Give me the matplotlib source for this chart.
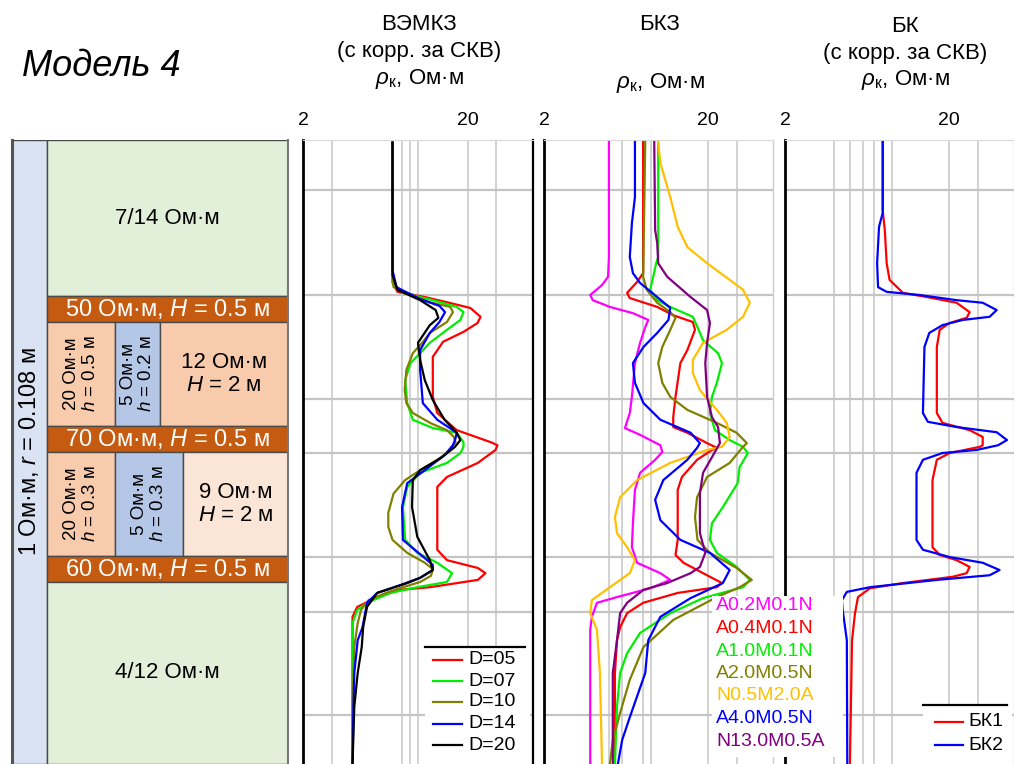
import matplotlib
matplotlib.use('Agg')
import matplotlib.pyplot as plt
from matplotlib.patches import Rectangle
from matplotlib.lines import Line2D
from matplotlib.ticker import NullLocator, FixedLocator, FixedFormatter

plt.rcParams['font.family'] = ['Liberation Sans', 'DejaVu Sans']
plt.rcParams['mathtext.fontset'] = 'custom'
plt.rcParams['mathtext.rm'] = 'Liberation Sans'
plt.rcParams['mathtext.it'] = 'Liberation Sans:italic'
plt.rcParams['mathtext.bf'] = 'Liberation Sans:bold'

# ---------------------------------------------------------------- data
# ВЭМКЗ (apparent resistivity, Ohm*m) vs depth (m from top of section)
vemkz_labels = ['D=05', 'D=07', 'D=10', 'D=14', 'D=20']
vemkz_colors = ['#ff0000', '#00ee00', '#808000', '#0000ff', '#000000']

d05_depth = [0.05, 2.40, 2.73, 2.92, 3.02, 3.12, 3.23, 3.40, 3.52, 3.69, 3.88, 4.17, 4.42, 4.94, 5.25,
             5.58, 5.81, 5.87, 5.96, 6.21, 6.48, 6.67, 7.88, 8.08, 8.23, 8.33, 8.46, 8.60, 8.65, 8.79,
             8.98, 9.17, 9.37, 10.25, 12.0]
d05_value = [7.0, 7.0, 7.0, 7.5, 11.0, 15.0, 20.8, 24.0, 23.0, 18.9, 14.2, 12.3, 12.3, 12.3, 13.1,
             17.2, 27.6, 30.4, 29.6, 23.1, 15.0, 13.1, 13.1, 15.0, 23.1, 25.7, 23.1, 11.8, 7.8, 5.65,
             4.27, 4.0, 4.0, 4.0, 4.0]

d07_depth = [0.05, 2.50, 2.75, 2.94, 3.08, 3.21, 3.31, 3.46, 3.65, 3.90, 4.10, 4.29, 4.62, 5.06, 5.38,
             5.54, 5.63, 5.81, 5.90, 6.02, 6.21, 6.40, 6.67, 7.06, 7.69, 7.94, 8.13, 8.33, 8.50, 8.60,
             8.71, 8.90, 9.04, 9.29, 9.62, 10.9, 12.0]
d07_value = [7.0, 7.0, 7.0, 8.1, 12.3, 17.2, 18.9, 18.1, 15.0, 11.8, 10.3, 9.0, 8.35, 8.6, 9.3,
             12.3, 17.2, 18.9, 18.9, 18.1, 15.0, 10.3, 8.6, 8.1, 8.35, 9.9, 13.1, 16.1, 15.0, 9.9,
             6.8, 4.9, 4.27, 4.0, 4.0, 4.0, 4.0]

d10_depth = [0.05, 2.60, 2.83, 3.12, 3.21, 3.31, 3.50, 3.71, 3.90, 4.10, 4.42, 4.81, 5.06, 5.25, 5.45,
             5.58, 5.71, 5.81, 5.90, 6.02, 6.15, 6.35, 6.54, 6.80, 7.17, 7.44, 7.69, 7.94, 8.13, 8.25,
             8.38, 8.50, 8.60, 8.71, 8.85, 9.04, 9.29, 9.75, 10.9, 12.0]
d10_value = [7.0, 7.0, 7.1, 11.8, 15.7, 16.3, 15.0, 11.8, 10.6, 9.3, 8.5, 8.3, 8.5, 9.3, 12.0,
             15.0, 16.5, 16.9, 16.1, 15.0, 13.1, 10.3, 8.35, 7.1, 6.6, 6.6, 7.0, 8.6, 11.0, 12.3,
             12.0, 10.3, 8.1, 6.4, 5.0, 4.5, 4.3, 4.1, 4.0, 4.0]

d14_depth = [0.05, 2.50, 2.83, 3.06, 3.19, 3.31, 3.50, 3.71, 4.04, 4.42, 5.06, 5.38, 5.63, 5.77, 5.87,
             6.06, 6.35, 6.60, 7.06, 7.69, 7.92, 8.17, 8.27, 8.42, 8.56, 8.71, 8.90, 9.37, 9.62, 10.25,
             10.9, 12.0]
d14_value = [7.0, 7.0, 7.4, 10.3, 13.5, 14.6, 13.5, 11.8, 10.3, 10.3, 10.7, 13.1, 17.2, 16.8, 16.3,
             14.5, 11.0, 8.6, 8.0, 8.1, 9.9, 12.3, 12.3, 10.3, 7.8, 5.65, 4.9, 4.6, 4.3, 4.1,
             4.05, 4.0]

d20_depth = [0.05, 2.60, 2.88, 3.08, 3.27, 3.42, 3.56, 3.90, 4.23, 4.62, 5.00, 5.38, 5.63, 5.77, 5.90,
             6.12, 6.35, 6.54, 7.06, 7.63, 8.08, 8.27, 8.42, 8.52, 8.71, 8.98, 9.37, 9.75, 10.25, 10.9,
             12.0]
d20_value = [7.0, 7.0, 7.5, 10.3, 12.8, 13.3, 11.8, 10.0, 10.3, 11.0, 12.3, 14.5, 17.2, 18.1, 16.8,
             13.7, 10.3, 9.3, 9.2, 9.9, 11.8, 12.3, 10.3, 8.6, 5.65, 4.9, 4.64, 4.55, 4.3, 4.1,
             4.0]

# БКЗ (lateral sounding probes)
bkz_labels = ['A0.2M0.1N', 'A0.4M0.1N', 'A1.0M0.1N', 'A2.0M0.5N', 'N0.5M2.0A', 'A4.0M0.5N', 'N13.0M0.5A']
bkz_colors = ['#ff00ff', '#ff0000', '#00ee00', '#808000', '#ffc000', '#0000ff', '#800080']

a02_depth = [0.04, 2.27, 2.63, 2.79, 2.98, 3.08, 3.21, 3.33, 3.46, 3.60, 3.90, 4.29, 4.94, 5.25, 5.54,
             5.67, 5.87, 6.00, 6.15, 6.40, 6.73, 7.37, 7.83, 8.13, 8.33, 8.46, 8.62, 8.79, 8.90, 9.17,
             9.42, 12.0]
a02_value = [4.98, 4.98, 4.92, 4.52, 3.83, 3.97, 5.05, 6.98, 8.66, 8.30, 7.72, 7.18, 6.88, 6.68, 6.24,
             7.72, 10.26, 10.55, 9.54, 7.72, 7.18, 6.98, 6.88, 7.40, 10.26, 11.8, 8.9, 5.58, 4.21, 3.92,
             3.83, 3.83]

a04_depth = [0.04, 2.56, 2.73, 2.94, 3.04, 3.21, 3.37, 3.50, 3.65, 4.04, 4.29, 4.94, 5.33, 5.52, 5.63,
             5.83, 5.92, 5.96, 6.15, 6.48, 6.73, 7.69, 7.98, 8.13, 8.33, 8.52, 8.60, 8.71, 8.90, 9.10,
             9.37, 9.62, 10.25, 12.0]
a04_value = [8.06, 8.06, 7.40, 6.43, 6.68, 9.82, 12.3, 16.2, 16.7, 15.0, 13.6, 12.7, 12.3, 12.3, 15.0,
             19.8, 22.7, 21.2, 17.2, 13.9, 13.1, 13.1, 12.7, 14.2, 18.7, 24.4, 22.7, 13.1, 8.06, 6.43,
             5.83, 5.58, 5.42, 5.42]

a10_depth = [0.04, 2.25, 2.37, 2.63, 2.88, 3.08, 3.21, 3.40, 3.60, 3.85, 4.10, 4.29, 4.67, 4.94, 5.25,
             5.58, 5.77, 5.90, 6.02, 6.29, 6.60, 7.06, 7.37, 7.69, 7.94, 8.21, 8.46, 8.60, 8.81, 9.10,
             9.48, 9.87, 10.25, 10.90, 12.0]
a10_value = [9.96, 9.96, 9.68, 9.28, 8.9, 9.82, 11.8, 16.2, 17.3, 18.7, 23.1, 24.4, 22.7, 21.2, 20.6,
             22.1, 27.2, 32.8, 35.1, 31.3, 30.4, 24.7, 21.2, 20.6, 22.7, 30.0, 36.1, 32.8, 18.7, 11.8,
             7.72, 6.43, 5.83, 5.58, 5.42]

a20_depth = [0.04, 2.63, 2.88, 3.13, 3.31, 3.42, 3.65, 3.98, 4.29, 4.67, 4.94, 5.19, 5.44, 5.63, 5.83,
             5.90, 6.21, 6.48, 6.87, 7.25, 7.69, 7.94, 8.23, 8.46, 8.60, 8.79, 9.23, 9.75, 10.38, 11.02,
             11.54, 12.0]
a20_value = [8.30, 8.06, 8.48, 9.82, 11.8, 12.7, 11.8, 10.55, 9.96, 10.55, 11.8, 15.0, 22.7, 30.0, 34.6,
             32.8, 27.2, 19.8, 17.2, 16.7, 17.3, 20.6, 30.0, 37.1, 31.3, 22.7, 12.3, 8.1, 6.68, 5.83,
             5.26, 5.05]

n05_depth = [0.04, 0.44, 1.10, 1.67, 2.06, 2.37, 2.69, 2.88, 3.13, 3.40, 3.65, 3.90, 4.23, 4.48, 4.81,
             5.19, 5.44, 5.71, 5.90, 5.96, 6.21, 6.54, 6.87, 7.25, 7.56, 7.83, 8.08, 8.33, 8.65, 8.85,
             9.10, 9.42, 10.25, 12.0]
n05_value = [9.96, 10.26, 11.8, 13.1, 15.0, 19.8, 27.2, 32.8, 36.1, 32.8, 26.1, 18.7, 16.2, 16.2, 17.9,
             22.7, 26.1, 27.2, 24.4, 19.8, 11.8, 7.40, 5.83, 5.42, 5.58, 6.43, 7.18, 6.68, 4.8, 3.92,
             3.83, 4.21, 4.39, 4.52]

a40_depth = [0.04, 1.10, 1.60, 2.25, 2.56, 2.75, 3.02, 3.23, 3.46, 3.71, 3.98, 4.29, 4.67, 5.06, 5.38,
             5.63, 5.83, 5.92, 6.15, 6.54, 6.92, 7.31, 7.69, 7.94, 8.27, 8.52, 8.81, 9.17, 9.62, 10.25,
             11.10, 11.54, 12.0]
a40_value = [7.18, 7.18, 6.88, 6.68, 6.98, 7.72, 9.82, 11.8, 11.5, 9.82, 8.1, 6.98, 7.18, 8.1, 10.26,
             15.7, 17.9, 17.2, 15.0, 10.7, 9.54, 10.26, 13.6, 20.6, 27.2, 24.7, 15.7, 10.26, 8.66, 8.30,
             6.68, 6.0, 5.65]

n13_depth = [0.04, 1.73, 1.98, 2.37, 2.63, 3.02, 3.27, 3.52, 3.90, 4.29, 4.94, 5.33, 5.52, 5.83, 6.10,
             6.40, 6.79, 7.56, 7.94, 8.21, 8.33, 8.52, 8.65, 8.90, 9.10, 9.62, 10.25, 12.0]
n13_value = [9.42, 9.54, 9.82, 9.96, 11.3, 15.7, 19.8, 20.6, 19.8, 19.3, 19.8, 21.2, 23.1, 23.7, 21.2,
             18.7, 17.9, 17.9, 19.3, 17.9, 15.7, 11.3, 8.1, 6.43, 5.83, 5.58, 5.26, 5.26]

# БК (laterolog)
bk_labels = ['БК1', 'БК2']
bk_colors = ['#ff0000', '#0000ff']

bk1_depth = [0.04, 1.35, 1.73, 2.37, 2.69, 2.94, 3.02, 3.13, 3.31, 3.42, 3.52, 3.65, 3.98, 5.25, 5.44,
             5.58, 5.71, 5.87, 5.90, 6.02, 6.15, 6.54, 7.83, 7.98, 8.08, 8.21, 8.33, 8.40, 8.52, 8.62,
             8.79, 9.10, 9.62, 12.0]
bk1_value = [7.9, 7.9, 8.13, 8.35, 8.7, 10.5, 14.7, 22.3, 26.8, 25.7, 20.2, 17.6, 16.9, 16.9, 18.3,
             26.8, 32.2, 32.2, 31.0, 20.2, 16.9, 15.9, 15.9, 17.6, 22.3, 26.8, 25.7, 21.1, 10.5, 6.6,
             5.58, 5.35, 5.13, 4.98]

bk2_depth = [0.04, 1.40, 1.67, 2.37, 2.83, 2.92, 2.98, 3.08, 3.13, 3.27, 3.40, 3.46, 3.56, 3.71, 3.98,
             5.25, 5.42, 5.52, 5.62, 5.77, 5.87, 5.96, 6.02, 6.15, 6.40, 7.69, 7.88, 8.02, 8.13, 8.27,
             8.37, 8.46, 8.60, 8.69, 8.85, 9.04, 9.62, 12.0]
bk2_value = [7.9, 7.9, 7.5, 7.3, 7.4, 8.35, 13.2, 22.3, 32.2, 39.2, 35.5, 24.4, 18.3, 15.2, 14.2,
             13.9, 14.9, 22.3, 39.2, 45.3, 40.0, 29.6, 18.3, 13.9, 12.7, 12.7, 13.9, 20.2, 32.2, 40.8,
             35.5, 16.9, 6.6, 4.77, 4.45, 4.5, 4.77, 4.8]

vemkz_curves = [(d05_depth, d05_value), (d07_depth, d07_value), (d10_depth, d10_value),
                (d14_depth, d14_value), (d20_depth, d20_value)]
bkz_curves = [(a02_depth, a02_value), (a04_depth, a04_value), (a10_depth, a10_value),
              (a20_depth, a20_value), (n05_depth, n05_value), (a40_depth, a40_value),
              (n13_depth, n13_value)]
bk_curves = [(bk1_depth, bk1_value), (bk2_depth, bk2_value)]

# horizontal reference lines (depth, m) and vertical grid values (Ohm*m)
depth_grid = [0.96, 2.98, 4.98, 6.02, 8.02, 9.08, 11.06]
vemkz_grid = [3, 8, 9, 10, 20, 30]
bkz_grid = [5, 6, 8, 9, 20, 30]
bk_grid = [4, 5, 6, 7, 9, 20, 30]
x_ticks = [2, 20]
x_range = (2, 50)
depth_range = (0, 12)

# ---------------------------------------------------------------- layout helpers
W, H = 1014, 764
fig = plt.figure(figsize=(W / 100, H / 100), dpi=100)
fig.patch.set_facecolor('white')


def rect(x0, y0, x1, y1):
    return [x0 / W, 1 - y1 / H, (x1 - x0) / W, (y1 - y0) / H]


def fx(x):
    return x / W


def fy(y):
    return 1 - y / H


TOP, BOT = 140, 764

# ---------------------------------------------------------------- title
fig.text(fx(22), fy(67), 'Модель 4', fontsize=26, style='italic', ha='left', va='center')

# ---------------------------------------------------------------- model column
GREEN = '#e2efd9'
BAND = '#c55a11'
PEACH = '#f8cbad'
PEACH_L = '#fbe5d6'
BLUE_L = '#b4c7e7'
STRIP = '#dae3f3'
EDGE = '#4a4a4a'

axm = fig.add_axes(rect(12, TOP, 288, BOT))
axm.set_xlim(12, 288)
axm.set_ylim(depth_range[1], depth_range[0])
axm.axis('off')

cells = [
    (12, 47, 0.0, 12.0, STRIP, r'1 Ом·м, $r$ = 0.108 м', 90, 'black', 17),
    (47, 288, 0.0, 3.0, GREEN, '7/14 Ом·м', 0, 'black', 16),
    (47, 288, 3.0, 3.5, BAND, r'50 Ом·м, $H$ = 0.5 м', 0, 'white', 17),
    (47, 115, 3.5, 5.5, PEACH, '20 Ом·м\n' + r'$h$ = 0.5 м', 90, 'black', 13.5),
    (115, 160, 3.5, 5.5, BLUE_L, '5 Ом·м\n' + r'$h$ = 0.2 м', 90, 'black', 13.5),
    (160, 288, 3.5, 5.5, PEACH, '12 Ом·м\n' + r'$H$ = 2 м', 0, 'black', 16),
    (47, 288, 5.5, 6.0, BAND, r'70 Ом·м, $H$ = 0.5 м', 0, 'white', 17),
    (47, 115, 6.0, 8.0, PEACH, '20 Ом·м\n' + r'$h$ = 0.3 м', 90, 'black', 13.5),
    (115, 183, 6.0, 8.0, BLUE_L, '5 Ом·м\n' + r'$h$ = 0.3 м', 90, 'black', 13.5),
    (183, 288, 6.0, 8.0, PEACH_L, '9 Ом·м\n' + r'$H$ = 2 м', 0, 'black', 16),
    (47, 288, 8.0, 8.5, BAND, r'60 Ом·м, $H$ = 0.5 м', 0, 'white', 17),
    (47, 288, 8.5, 12.0, GREEN, '4/12 Ом·м', 0, 'black', 16),
]
for x0, x1, d0, d1, col, txt, rot, tcol, fs in cells:
    axm.add_patch(Rectangle((x0, d0), x1 - x0, d1 - d0, facecolor=col,
                            edgecolor=EDGE, linewidth=1.0))
    axm.text((x0 + x1) / 2, (d0 + d1) / 2, txt, rotation=rot, color=tcol, fontsize=fs,
             ha='center', va='center', linespacing=1.15, multialignment='center')
axm.plot([12, 12], [0, 12], color='#555555', lw=2.2, clip_on=False)
axm.plot([288, 288], [0, 12], color='#777777', lw=1.5, clip_on=False)

# ---------------------------------------------------------------- log panels
RHO = r'$\rho_{\mathrm{к}}$, Ом·м'
panels = [
    dict(x0=303, x1=533, curves=vemkz_curves, colors=vemkz_colors, grid=vemkz_grid,
         right='black', head=[('ВЭМКЗ', 25), ('(с корр. за СКВ)', 52), (RHO, 79)], hx=419),
    dict(x0=544, x1=773, curves=bkz_curves, colors=bkz_colors, grid=bkz_grid,
         right='#cccccc', head=[('БКЗ', 25), (RHO, 83)], hx=660),
    dict(x0=785, x1=1014, curves=bk_curves, colors=bk_colors, grid=bk_grid,
         right='#cccccc', head=[('БК', 27), ('(с корр. за СКВ)', 53), (RHO, 80)], hx=905),
]
axes = []
for p in panels:
    ax = fig.add_axes(rect(p['x0'], TOP, p['x1'], BOT))
    ax.set_xscale('log')
    ax.set_xlim(*x_range)
    ax.set_ylim(depth_range[1], depth_range[0])
    ax.xaxis.set_major_locator(FixedLocator(x_ticks))
    ax.xaxis.set_major_formatter(FixedFormatter([str(t) for t in x_ticks]))
    ax.xaxis.set_minor_locator(NullLocator())
    ax.xaxis.tick_top()
    ax.tick_params(axis='x', length=0, pad=8, labelsize=14)
    ax.set_yticks([])
    for v in p['grid']:
        ax.axvline(v, color='#cfcfcf', lw=1.3, zorder=0)
    for d in depth_grid:
        ax.axhline(d, color='#c4c4c4', lw=1.6, zorder=0)
    for (dep, val), col in zip(p['curves'], p['colors']):
        ax.plot(val, dep, color=col, lw=1.6, zorder=3)
    ax.spines['left'].set_color('black')
    ax.spines['left'].set_linewidth(2.0)
    ax.spines['right'].set_color(p['right'])
    ax.spines['right'].set_linewidth(1.6 if p['right'] == 'black' else 1.0)
    ax.spines['top'].set_color('#d8d8d8')
    ax.spines['bottom'].set_visible(False)
    for txt, y in p['head']:
        fig.text(fx(p['hx']), fy(y), txt, fontsize=16, ha='center', va='center')
    axes.append(ax)


def legend_lines(ax, x0px, labels, colors, top_px, rows_px, lx0, lx1, tx, right_px):
    """Legend with a top rule, line samples and labels (positions in pixels)."""
    w = ax.get_position()
    px0 = w.x0 * W
    pw = w.width * W

    def ax_x(x):
        return (x - px0) / pw

    def ax_y(y):
        return 1 - (y - TOP) / (BOT - TOP)

    ax.add_patch(Rectangle((ax_x(x0px), 0), ax_x(right_px) - ax_x(x0px), ax_y(top_px),
                           transform=ax.transAxes, facecolor='white', edgecolor='none', zorder=5))
    ax.add_line(Line2D([ax_x(x0px), ax_x(right_px - 5)], [ax_y(top_px)] * 2, transform=ax.transAxes,
                       color='black', lw=1.6, zorder=6))
    for lab, col, y in zip(labels, colors, rows_px):
        ax.add_line(Line2D([ax_x(lx0), ax_x(lx1)], [ax_y(y)] * 2, transform=ax.transAxes,
                           color=col, lw=1.6, zorder=6))
        ax.text(ax_x(tx), ax_y(y), lab, transform=ax.transAxes, fontsize=14,
                ha='left', va='center', zorder=7)


legend_lines(axes[0], 425, vemkz_labels, vemkz_colors, 647, [660, 681, 702, 724, 745],
             433, 462, 468, 530)
legend_lines(axes[2], 923, bk_labels, bk_colors, 705, [722, 745], 935, 963, 968, 1012)

# БКЗ legend: coloured labels on a white plate spanning into the next panel
fig.add_artist(Rectangle((fx(712), fy(757)), fx(843) - fx(712), fy(596) - fy(757),
                         transform=fig.transFigure, facecolor='white', edgecolor='none', zorder=5))
for i, (lab, col) in enumerate(zip(bkz_labels, bkz_colors)):
    fig.text(fx(716), fy(606 + 22.5 * i), lab, color=col, fontsize=14, ha='left', va='center',
             zorder=6)

fig.savefig('out.png', dpi=100, facecolor='white')
